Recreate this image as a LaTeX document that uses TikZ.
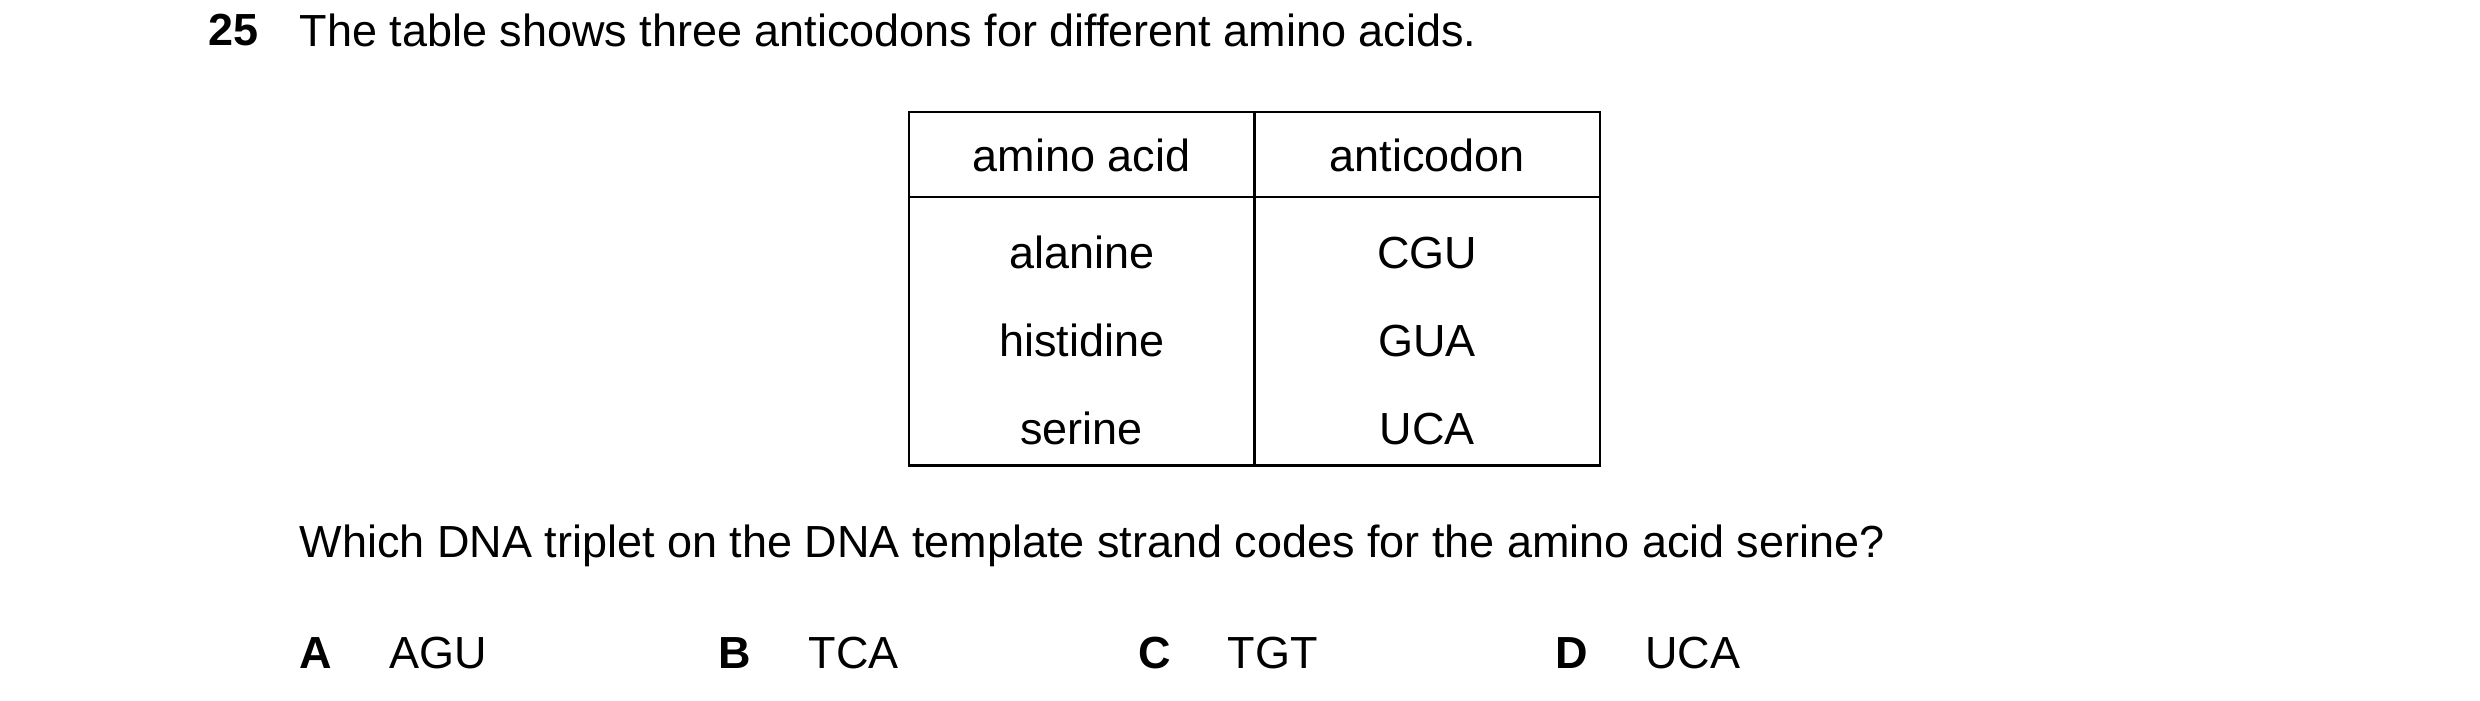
\documentclass[tikz,border=0pt]{standalone}
\usepackage{fontspec}
\setmainfont{Liberation Sans}
\begin{document}
\begin{tikzpicture}[x=0.02cm,y=-0.02cm,
  t/.style={font=\fontsize{16}{19}\selectfont,inner sep=0pt},
  tw/.style={t,anchor=west},
  b/.style={tw,font=\fontsize{16}{19}\selectfont\bfseries},
  ln/.style={line width=0.8pt}]
\useasboundingbox (0,0) rectangle (1550,438);
\node[b] (n) at (130,19) {25};
\node[tw] (h) at (187,19) {The table shows three anticodons for different amino acids.};
\draw[ln] (568,70) rectangle (1000,291);
\draw[ln] (568,123) -- (1000,123);
\draw[ln] (784,70) -- (784,291);
\node[t] (c1) at (676,97) {amino acid};
\node[t] (c2) at (892,97) {anticodon};
\node[t] (a1) at (676,158) {alanine};
\node[t] (b1) at (892,158) {CGU};
\node[t] (a2) at (676,213) {histidine};
\node[t] (b2) at (892,213) {GUA};
\node[t] (a3) at (676,268) {serine};
\node[t] (b3) at (892,268) {UCA};
\node[tw] (q) at (187,341) {Which DNA triplet on the DNA template strand codes for the amino acid serine?};
\node[b] (A) at (187,408) {A};  \node[tw] (Av) at (243,408) {AGU};
\node[b] (B) at (449,408) {B};  \node[tw] (Bv) at (505,408) {TCA};
\node[b] (C) at (711,408) {C};  \node[tw] (Cv) at (767,408) {TGT};
\node[b] (D) at (972,408) {D};  \node[tw] (Dv) at (1028,408) {UCA};
\end{tikzpicture}
\end{document}
